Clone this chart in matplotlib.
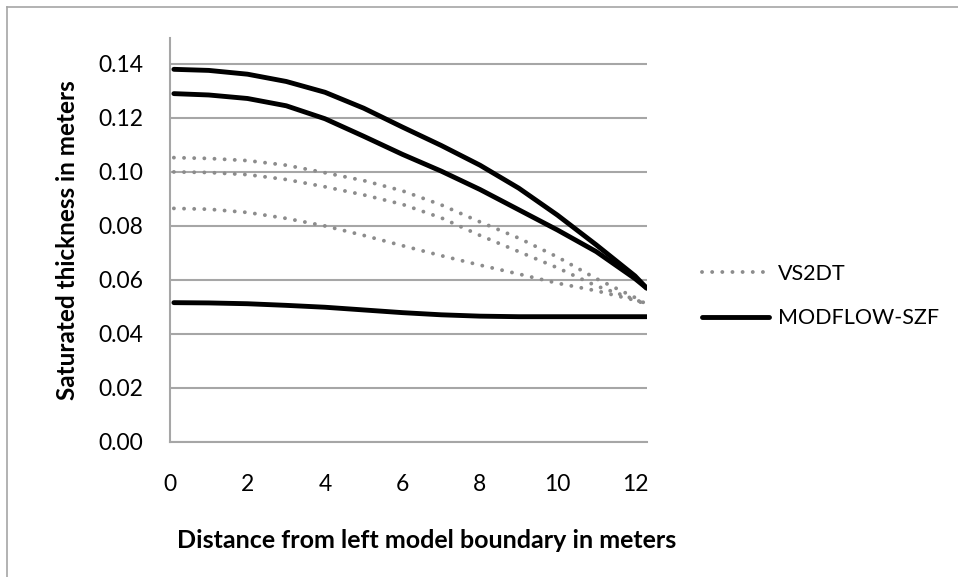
import numpy as np
import matplotlib
matplotlib.use("Agg")
import matplotlib.pyplot as plt
from matplotlib.lines import Line2D

plt.rcParams['font.family'] = ['Lato', 'DejaVu Sans']

# distance from left model boundary, meters
x = [0.1, 1, 2, 3, 4, 5, 6, 7, 8, 9, 10, 11, 12, 12.3]

# MODFLOW-SZF curves
szf_1 = [0.1380, 0.1376, 0.1362, 0.1335, 0.1295, 0.1236, 0.1166, 0.1098, 0.1025, 0.0940, 0.0840, 0.0730, 0.0615, 0.0570]
szf_2 = [0.1290, 0.1285, 0.1272, 0.1245, 0.1197, 0.1132, 0.1065, 0.1003, 0.0935, 0.0860, 0.0785, 0.0705, 0.0605, 0.0570]
szf_3 = [0.0516, 0.0515, 0.0512, 0.0506, 0.0499, 0.0489, 0.0479, 0.0471, 0.0466, 0.0464, 0.0464, 0.0464, 0.0464, 0.0464]

# VS2DT curves
vs_1 = [0.1053, 0.1050, 0.1042, 0.1025, 0.0997, 0.0968, 0.0930, 0.0878, 0.0815, 0.0755, 0.0685, 0.0605, 0.0535, 0.0510]
vs_2 = [0.1000, 0.0998, 0.0990, 0.0972, 0.0945, 0.0915, 0.0880, 0.0830, 0.0765, 0.0705, 0.0645, 0.0578, 0.0528, 0.0510]
vs_3 = [0.0865, 0.0862, 0.0850, 0.0828, 0.0800, 0.0765, 0.0727, 0.0690, 0.0655, 0.0622, 0.0588, 0.0560, 0.0525, 0.0510]

yticks = [0.00, 0.02, 0.04, 0.06, 0.08, 0.10, 0.12, 0.14]
xticks = [0, 2, 4, 6, 8, 10, 12]

grey = '#a6a6a6'
dotc = '#8c8c8c'

fig = plt.figure(figsize=(9.58, 5.77), dpi=100)
ax = fig.add_axes([170/958, 1-442/577, 477/958, 404/577])

dots = dict(color=dotc, lw=2.8, linestyle=(0, (0.01, 2.6)), dash_capstyle='round')
solid = dict(color='black', lw=3.5, solid_capstyle='round', solid_joinstyle='round')

ax.plot(x, vs_1, **dots, label='VS2DT')
ax.plot(x, vs_2, **dots)
ax.plot(x, vs_3, **dots)
ax.plot(x, szf_1, **solid, label='MODFLOW-SZF')
ax.plot(x, szf_2, **solid)
ax.plot(x, szf_3, **solid)

ax.set_xlim(0, 12.31)
ax.set_ylim(0, 0.1496)
ax.set_yticks(yticks)
ax.set_yticklabels(['%.2f' % v for v in yticks])
ax.set_xticks(xticks)
ax.yaxis.grid(True, color=grey, lw=1.5)
ax.set_axisbelow(True)
for s in ['top', 'right']:
    ax.spines[s].set_visible(False)
for s in ['left', 'bottom']:
    ax.spines[s].set_color(grey)
    ax.spines[s].set_linewidth(1.5)
ax.tick_params(length=0, labelsize=16.5, colors='black')
ax.tick_params(axis='x', pad=23)
ax.tick_params(axis='y', pad=19)

ax.set_xlabel('Distance from left model boundary in meters', fontsize=18,
              fontweight='bold')
ax.xaxis.set_label_coords(0.537, -0.215)
ax.set_ylabel('Saturated thickness in meters', fontsize=17.5,
              fontweight='bold', labelpad=14)

ax.legend(loc='center left', bbox_to_anchor=(702/958, 1-296/577),
          bbox_transform=fig.transFigure, frameon=False, fontsize=15.5,
          handlelength=3.1, handletextpad=0.45, labelspacing=1.15,
          borderpad=0, borderaxespad=0)

# outer chart frame
fig.add_artist(Line2D([7/958, 7/958], [0, 1-7/577], color=grey, lw=1.2))
fig.add_artist(Line2D([7/958, 1], [1-7/577, 1-7/577], color=grey, lw=1.2))

fig.savefig('out.png', dpi=100)
